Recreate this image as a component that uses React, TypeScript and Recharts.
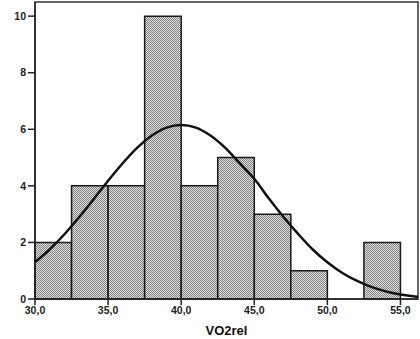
import { ComposedChart, Line, ReferenceArea, XAxis, YAxis } from "recharts";

// histogram bins (lower edge, upper edge, count)
const binStart = [30, 32.5, 35, 37.5, 40, 42.5, 45, 47.5, 50, 52.5];
const binEnd = [32.5, 35, 37.5, 40, 42.5, 45, 47.5, 50, 52.5, 55];
const binCount = [2, 4, 4, 10, 4, 5, 3, 1, 0, 2];

// fitted normal curve
const curveX = [30, 31, 32, 33, 34, 35, 36, 37, 38, 39, 40, 41, 42, 43, 44, 45, 46, 47, 48, 49, 50, 51, 52, 53, 54, 55, 56, 56.2];
const curveY = [1.3, 1.75, 2.28, 2.88, 3.52, 4.18, 4.8, 5.35, 5.78, 6.06, 6.15, 6.06, 5.78, 5.35, 4.8, 4.25, 3.55, 2.9, 2.3, 1.75, 1.3, 0.93, 0.65, 0.43, 0.27, 0.16, 0.09, 0.08];

const xTicks = [30, 35, 40, 45, 50, 55];
const yTicks = [0, 2, 4, 6, 8, 10];

const curveData = curveX.map((x, i) => ({ x, y: curveY[i] }));

const fmt = (v: number) => v.toFixed(1).replace(".", ",");

const tickStyle = { fill: "#222", fontSize: 10.5, fontWeight: 700, fontFamily: "Liberation Sans, Arial, sans-serif" };

export default function App() {
  return (
    <div style={{ position: "absolute", left: 0, top: 0, background: "#fff" }}>
      <ComposedChart width={420} height={339} data={curveData} margin={{ top: 2, right: 2, bottom: 0, left: 5 }}>
        <defs>
          <pattern id="stipple" width="2" height="2" patternUnits="userSpaceOnUse">
            <rect width="2" height="2" fill="#dcdcdc" />
            <rect width="1" height="1" fill="#858585" />
            <rect x="1" y="1" width="1" height="1" fill="#858585" />
          </pattern>
        </defs>

        <XAxis
          type="number"
          dataKey="x"
          domain={[30, 56.2]}
          ticks={xTicks}
          tickFormatter={fmt}
          height={40}
          tickSize={6}
          tick={tickStyle}
          axisLine={{ stroke: "#222", strokeWidth: 1.5 }}
          tickLine={{ stroke: "#222", strokeWidth: 1.5 }}
          allowDataOverflow
          label={{ value: "VO2rel", position: "insideBottom", offset: 4, fill: "#111", fontSize: 13, fontWeight: 700, fontFamily: "Liberation Sans, Arial, sans-serif" }}
        />
        <YAxis
          type="number"
          domain={[0, 10.5]}
          ticks={yTicks}
          width={30}
          tickSize={7}
          tick={tickStyle}
          axisLine={{ stroke: "#222", strokeWidth: 1.5 }}
          tickLine={{ stroke: "#222", strokeWidth: 1.5 }}
          allowDataOverflow
        />

        {binStart.map((s, i) =>
          binCount[i] > 0 ? (
            <ReferenceArea
              key={`bin-${i}`}
              x1={s}
              x2={binEnd[i]}
              y1={0}
              y2={binCount[i]}
              fill="url(#stipple)"
              fillOpacity={1}
              stroke="#1a1a1a"
              strokeWidth={1.5}
              ifOverflow="visible"
            />
          ) : null
        )}

        <ReferenceArea x1={30} x2={56.2} y1={0} y2={10.5} fill="none" stroke="#333" strokeWidth={1.5} ifOverflow="visible" />

        <Line
          type="monotone"
          dataKey="y"
          stroke="#111"
          strokeWidth={2.5}
          dot={false}
          isAnimationActive={false}
        />
      </ComposedChart>
    </div>
  );
}
